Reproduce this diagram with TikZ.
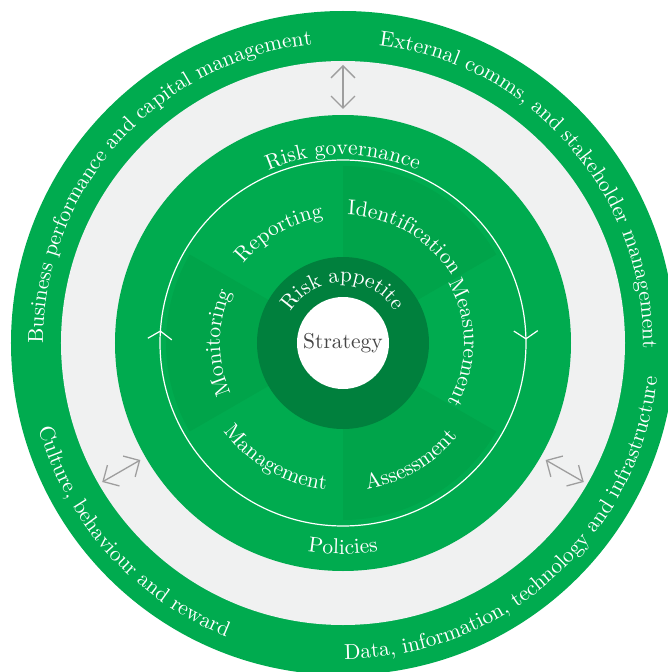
\documentclass[tikz,border=0pt]{standalone}
\usepackage{fontspec}
\newfontfamily\ringfam{lmroman10-regular.otf}
\usepackage{xcolor}
\definecolor{riskGreen}{RGB}{0,171,79}
\definecolor{riskWedge}{RGB}{0,164,74}
\definecolor{riskDark}{RGB}{0,128,61}
\definecolor{riskGrey}{RGB}{240,241,241}
\definecolor{riskArrow}{RGB}{158,158,158}
\definecolor{riskText}{RGB}{70,70,70}
\usepackage{tikz}
\usetikzlibrary{arrows.meta}
\usetikzlibrary{decorations.text}
\usetikzlibrary{decorations.markings}
\newcommand{\ringfont}{\ringfam\fontsize{21.5pt}{26pt}\selectfont\color{white}}
\tikzstyle{ringlabel} = [decorate, decoration={text along path, text align=center}]
\tikzstyle{twoway} = [draw=riskArrow, line width=1.3pt, {Straight Barb[length=12pt,width=24pt]}-{Straight Barb[length=12pt,width=24pt]}]
\tikzstyle{strategy} = [text=riskText, font={\ringfam\fontsize{21.5pt}{26pt}\selectfont}, inner sep=0pt]
\tikzstyle{cycleline} = [draw=white, line width=1.2pt, postaction={decorate},
        decoration={markings,
          mark=at position 0.247 with {\arrow{Straight Barb[length=8pt,width=24pt]}},
          mark=at position 0.761 with {\arrow{Straight Barb[length=8pt,width=24pt]}}}]
\begin{document}
\begin{tikzpicture}
\useasboundingbox (-343pt,-329pt) rectangle (325pt,343pt);
\coordinate (centre) at (0,0);
\fill[riskGreen] (centre) circle (332pt);
\fill[riskGrey] (centre) circle (282pt);
\fill[riskGreen] (centre) circle (228pt);
\fill[riskWedge] (centre) -- (30:177pt) arc[start angle=30, end angle=90, radius=177pt] -- cycle;
\fill[riskWedge] (centre) -- (150:177pt) arc[start angle=150, end angle=210, radius=177pt] -- cycle;
\fill[riskWedge] (centre) -- (270:177pt) arc[start angle=270, end angle=330, radius=177pt] -- cycle;
\fill[riskDark] (centre) circle (86pt);
\fill[white] (centre) circle (46pt);
\node[strategy] (strategy) at (centre) {Strategy};
\path[cycleline] (90:183pt) arc[start angle=90, end angle=-270, radius=183pt];
\coordinate (govIn) at (90:234pt);
\coordinate (govOut) at (90:278pt);
\coordinate (cultIn) at (210:234pt);
\coordinate (cultOut) at (210:278pt);
\coordinate (dataIn) at (330:234pt);
\coordinate (dataOut) at (330:278pt);
\draw[twoway] (govIn) -- (govOut);
\draw[twoway] (cultIn) -- (cultOut);
\draw[twoway] (dataIn) -- (dataOut);
\path[ringlabel, decoration={text={|\ringfont|Business performance and capital management}}]
  (228:300pt) arc[start angle=228, end angle=48, radius=300pt];
\path[ringlabel, decoration={text={|\ringfont|External comms, and stakeholder management}}]
  (131:300pt) arc[start angle=131, end angle=-49, radius=300pt];
\path[ringlabel, decoration={text={|\ringfont|Data, information, technology and infrastructure}}]
  (-138:316pt) arc[start angle=-138, end angle=42, radius=316pt];
\path[ringlabel, decoration={text={|\ringfont|Culture, behaviour and reward}}]
  (132:316pt) arc[start angle=132, end angle=312, radius=316pt];
\path[ringlabel, decoration={text={|\ringfont|Risk governance}}]
  (160:188pt) arc[start angle=160, end angle=20, radius=188pt];
\path[ringlabel, decoration={text={|\ringfont|Policies}}]
  (-150:211pt) arc[start angle=-150, end angle=-30, radius=211pt];
\path[ringlabel, decoration={text={|\ringfont|Risk appetite}}]
  (200:61pt) arc[start angle=200, end angle=-20, radius=61pt];
\path[ringlabel, decoration={text={|\ringfont|Reporting}}]
  (180:127pt) arc[start angle=180, end angle=60, radius=127pt];
\path[ringlabel, decoration={text={|\ringfont|Identification}}]
  (120:128pt) arc[start angle=120, end angle=0, radius=128pt];
\path[ringlabel, decoration={text={|\ringfont|Measurement}}]
  (60:121pt) arc[start angle=60, end angle=-60, radius=121pt];
\path[ringlabel, decoration={text={|\ringfont|Monitoring}}]
  (240:123pt) arc[start angle=240, end angle=120, radius=123pt];
\path[ringlabel, decoration={text={|\ringfont|Management}}]
  (180:148pt) arc[start angle=180, end angle=300, radius=148pt];
\path[ringlabel, decoration={text={|\ringfont|Assessment}}]
  (240:148pt) arc[start angle=240, end angle=360, radius=148pt];
\end{tikzpicture}
\end{document}
